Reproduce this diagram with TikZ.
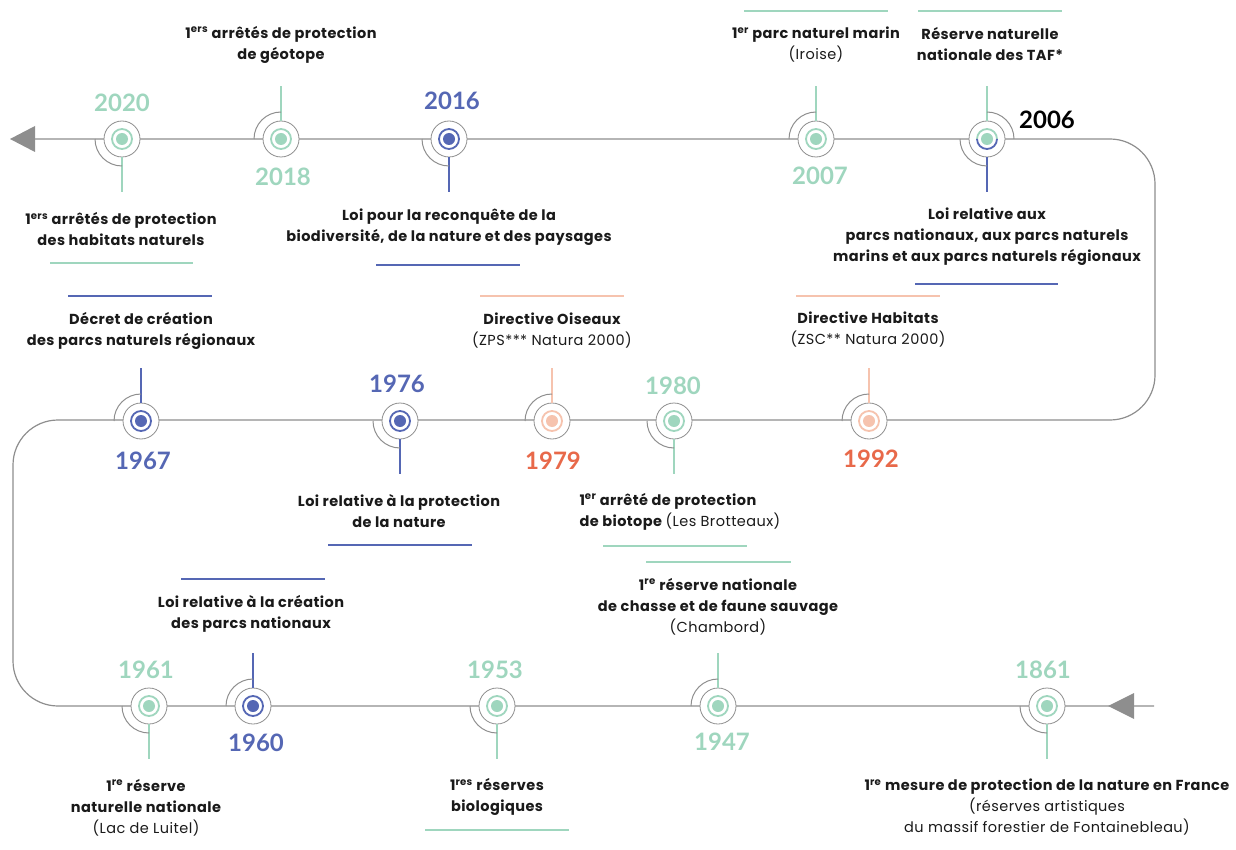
\documentclass[tikz,border=0pt]{standalone}
\usepackage{fontspec}
\setmainfont{Poppins}[LetterSpace=3]
\newfontfamily\yearfont{Lato}
\usetikzlibrary{calc}
\definecolor{grn}{HTML}{9FD6BE}
\definecolor{blu}{HTML}{5567B4}
\definecolor{sal}{HTML}{F6C3AE}
\definecolor{yred}{HTML}{E8694A}
\definecolor{lgr}{HTML}{8E8E8E}
\definecolor{txt}{HTML}{1A1A1A}
\tikzset{
  tl/.style={draw=lgr, line width=1.2pt},
  ring/.style={circle, draw=lgr, fill=white, line width=0.8pt, minimum size=36pt, inner sep=0pt},
  yr/.style={font=\yearfont\fontsize{24}{24}\selectfont\bfseries},
  lbl/.style={font=\fontsize{14.5}{21}\selectfont\bfseries, text=txt, align=center},
  sepline/.style={line width=1.4pt},
  stemline/.style={line width=2.4pt},
  arcs/.style={draw=lgr, line width=1pt}
}
\newcommand\mkr[4]{\node[ring] (#1) at (#2,#3) {};
  \draw[#4, line width=1.8pt] (#1.center) circle[radius=10];
  \fill[#4] (#1.center) circle[radius=6];}
\newcommand\stup[2]{\draw[#2, stemline] (#1.north) -- ++(0,-35);
  \draw[arcs] ([xshift=-27pt]#1.center) arc[start angle=180,end angle=270,radius=27];}
\newcommand\stdown[2]{\draw[#2, stemline] (#1.south) -- ++(0,35);
  \draw[arcs] ([xshift=-27pt]#1.center) arc[start angle=180,end angle=90,radius=27];}
\newcommand\rg[1]{{\mdseries #1}}
\begin{document}
\begin{tikzpicture}[x=1pt,y=-1pt]
\path[use as bounding box] (0,0) rectangle (1236,850);
% main timeline
\draw[tl, rounded corners=45] (30,139) -- (1155,139) -- (1155,420) -- (13,420) -- (13,706) -- (1154,706);
\fill[lgr] (10,139) -- (35,126) -- (35,152) -- cycle;
\fill[lgr] (1108,706) -- (1134,693) -- (1134,719) -- cycle;
% markers row 1
\mkr{m2020}{122}{139}{grn} \stdown{m2020}{grn}
\mkr{m2018}{281}{139}{grn} \stup{m2018}{grn}
\mkr{m2016}{449}{139}{blu} \stdown{m2016}{blu}
\mkr{m2007}{816}{139}{grn} \stup{m2007}{grn}
\node[ring] (m2006) at (987,139) {};
\draw[grn, line width=1.8pt] ([xshift=10pt]m2006.center) arc[start angle=0,end angle=-180,radius=10];
\draw[blu, line width=1.8pt] ([xshift=10pt]m2006.center) arc[start angle=0,end angle=180,radius=10];
\fill[grn] (m2006.center) circle[radius=6];
\draw[grn, stemline] (m2006.north) -- ++(0,-35);
\draw[blu, stemline] (m2006.south) -- ++(0,35);
\draw[arcs] ([yshift=27pt]m2006.center) arc[start angle=270,end angle=360,radius=27];
\draw[arcs] ([xshift=-27pt]m2006.center) arc[start angle=180,end angle=90,radius=27];
% row 2
\mkr{m1967}{141}{421}{blu} \stup{m1967}{blu}
\mkr{m1976}{400}{421}{blu} \stdown{m1976}{blu}
\mkr{m1979}{552}{421}{sal} \stup{m1979}{sal}
\mkr{m1980}{674}{421}{grn} \stdown{m1980}{grn}
\mkr{m1992}{869}{421}{sal} \stup{m1992}{sal}
% row 3
\mkr{m1961}{149}{706}{grn} \stdown{m1961}{grn}
\mkr{m1960}{253}{706}{blu} \stup{m1960}{blu}
\mkr{m1953}{497}{706}{grn} \stdown{m1953}{grn}
\mkr{m1947}{718}{706}{grn} \stup{m1947}{grn}
\mkr{m1861}{1047}{706}{grn} \stdown{m1861}{grn}
% years
\node[yr, text=grn] (y2020) at (122,103) {2020};
\node[yr, text=grn] (y2018) at (283,177) {2018};
\node[yr, text=blu] (y2016) at (452,101) {2016};
\node[yr, text=grn] (y2007) at (820,176) {2007};
\node[yr, text=black] (y2006) at (1047,120) {2006};
\node[yr, text=blu] (y1967) at (143,461) {1967};
\node[yr, text=blu] (y1976) at (397,384) {1976};
\node[yr, text=yred] (y1979) at (553,461) {1979};
\node[yr, text=grn] (y1980) at (673,386) {1980};
\node[yr, text=yred] (y1992) at (871,459) {1992};
\node[yr, text=grn] (y1961) at (146,670) {1961};
\node[yr, text=blu] (y1960) at (256,743) {1960};
\node[yr, text=grn] (y1953) at (495,670) {1953};
\node[yr, text=grn] (y1947) at (722,742) {1947};
\node[yr, text=grn] (y1861) at (1043,670) {1861};
% labels
\node[lbl] (t1) at (281,44.5) {1\textsuperscript{ers} arrêtés de protection\\de géotope};
\node[lbl] (t2) at (121,229) {1\textsuperscript{ers} arrêtés de protection\\des habitats naturels};
\node[lbl] (t3) at (449,227.5) {Loi pour la reconquête de la\\biodiversité, de la nature et des paysages};
\node[lbl] (t4) at (816,45) {1\textsuperscript{er} parc naturel marin\\\rg{(Iroise)}};
\node[lbl] (t5) at (990,44.5) {Réserve naturelle\\nationale des TAF*};
\node[lbl] (t6) at (987,236.5) {Loi relative aux\\parcs nationaux, aux parcs naturels\\marins et aux parcs naturels régionaux};
\node[lbl] (t7) at (141,330.5) {Décret de création\\des parcs naturels régionaux};
\node[lbl] (t8) at (552,330.5) {Directive Oiseaux\\\rg{(ZPS*** Natura 2000)}};
\node[lbl] (t9) at (868,330) {Directive Habitats\\\rg{(ZSC** Natura 2000)}};
\node[lbl] (t10) at (399,511.5) {Loi relative à la protection\\de la nature};
\node[lbl, align=left, anchor=west] (t11) at (576,511.5) {1\textsuperscript{er} arrêté de protection\\de biotope \rg{(Les Brotteaux)}};
\node[lbl] (t12) at (251,613.5) {Loi relative à la création\\des parcs nationaux};
\node[lbl] (t13) at (718,606.5) {1\textsuperscript{re} réserve nationale\\de chasse et de faune sauvage\\\rg{(Chambord)}};
\node[lbl] (t14) at (146,807.5) {1\textsuperscript{re} réserve\\naturelle nationale\\\rg{(Lac de Luitel)}};
\node[lbl] (t15) at (497,797) {1\textsuperscript{res} réserves\\biologiques};
\node[lbl] (t16) at (1047,807.5) {1\textsuperscript{re} mesure de protection de la nature en France\\\rg{(réserves artistiques}\\\rg{du massif forestier de Fontainebleau)}};
% separator lines
\draw[grn, sepline] (744,11) -- (888,11);
\draw[grn, sepline] (918,11) -- (1062,11);
\draw[grn, sepline] (50,263) -- (193,263);
\draw[blu, sepline] (376,265) -- (520,265);
\draw[blu, sepline] (915,284) -- (1058,284);
\draw[blu, sepline] (68,296) -- (212,296);
\draw[sal, sepline] (480,296) -- (624,296);
\draw[sal, sepline] (796,296) -- (940,296);
\draw[blu, sepline] (328,545) -- (472,545);
\draw[grn, sepline] (603,546) -- (747,546);
\draw[blu, sepline] (181,579) -- (325,579);
\draw[grn, sepline] (646,562) -- (791,562);
\draw[grn, sepline] (425,830) -- (569,830);
\end{tikzpicture}
\end{document}
